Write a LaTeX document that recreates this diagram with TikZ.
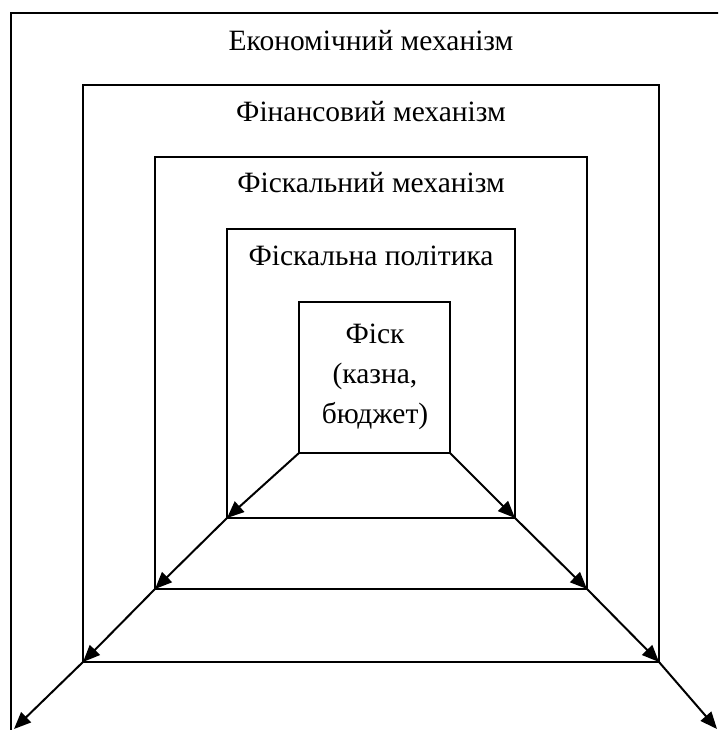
\documentclass[tikz,border=0pt]{standalone}
\usepackage{fontspec}
\setmainfont{Liberation Serif}
\usetikzlibrary{arrows.meta}

\tikzset{
  frame/.style={line width=2pt},
  flow/.style={line width=2pt, -{Triangle[length=17pt,width=14pt]}},
  title/.style={anchor=base, inner sep=0pt, font=\fontsize{29.5}{40}\selectfont}
}

\begin{document}
\begin{tikzpicture}[x=1pt,y=-1pt]
\useasboundingbox (0,0) rectangle (718,730);
\clip (0,0) rectangle (718,730);

% corners of the boxes
\coordinate (econSW) at (11,780);   \coordinate (econNE) at (740,13);
\coordinate (finSW) at (83,662);    \coordinate (finNE) at (659,85);
\coordinate (fiscSW) at (155,589);  \coordinate (fiscNE) at (587,157);
\coordinate (polSW) at (227,518);   \coordinate (polNE) at (515,229);
\coordinate (fiskSW) at (299,453);  \coordinate (fiskNE) at (450,302);
\coordinate (fiskSE) at (450,453);  \coordinate (polSE) at (515,518);
\coordinate (fiscSE) at (587,589);  \coordinate (finSE) at (659,662);
\coordinate (outL) at (14,729);     \coordinate (outR) at (717,729);

\draw[frame] (econSW) rectangle (econNE);
\draw[frame] (finSW) rectangle (finNE);
\draw[frame] (fiscSW) rectangle (fiscNE);
\draw[frame] (polSW) rectangle (polNE);
\draw[frame] (fiskSW) rectangle (fiskNE);

\node[title] (econ) at (371,51) {Економічний механізм};
\node[title] (fin) at (371,122) {Фінансовий механізм};
\node[title] (fisc) at (371,193) {Фіскальний механізм};
\node[title] (pol) at (371,265) {Фіскальна політика};
\node[title, anchor=center, align=center] (fisk) at (375,377) {Фіск\\(казна,\\бюджет)};

%%%%%%%%%%%%%%%%%%%%%%%%%%%%%%%%%%%%%%%%%%%%%%%%%%%%%%%%%%%%%%%%%%%%
\draw[flow] (fiskSW) -- (polSW);
\draw[flow] (polSW) -- (fiscSW);
\draw[flow] (fiscSW) -- (finSW);
\draw[flow] (finSW) -- (outL); %left side

\draw[flow] (fiskSE) -- (polSE);
\draw[flow] (polSE) -- (fiscSE);
\draw[flow] (fiscSE) -- (finSE);
\draw[flow] (finSE) -- (outR); %right side
\end{tikzpicture}
\end{document}
